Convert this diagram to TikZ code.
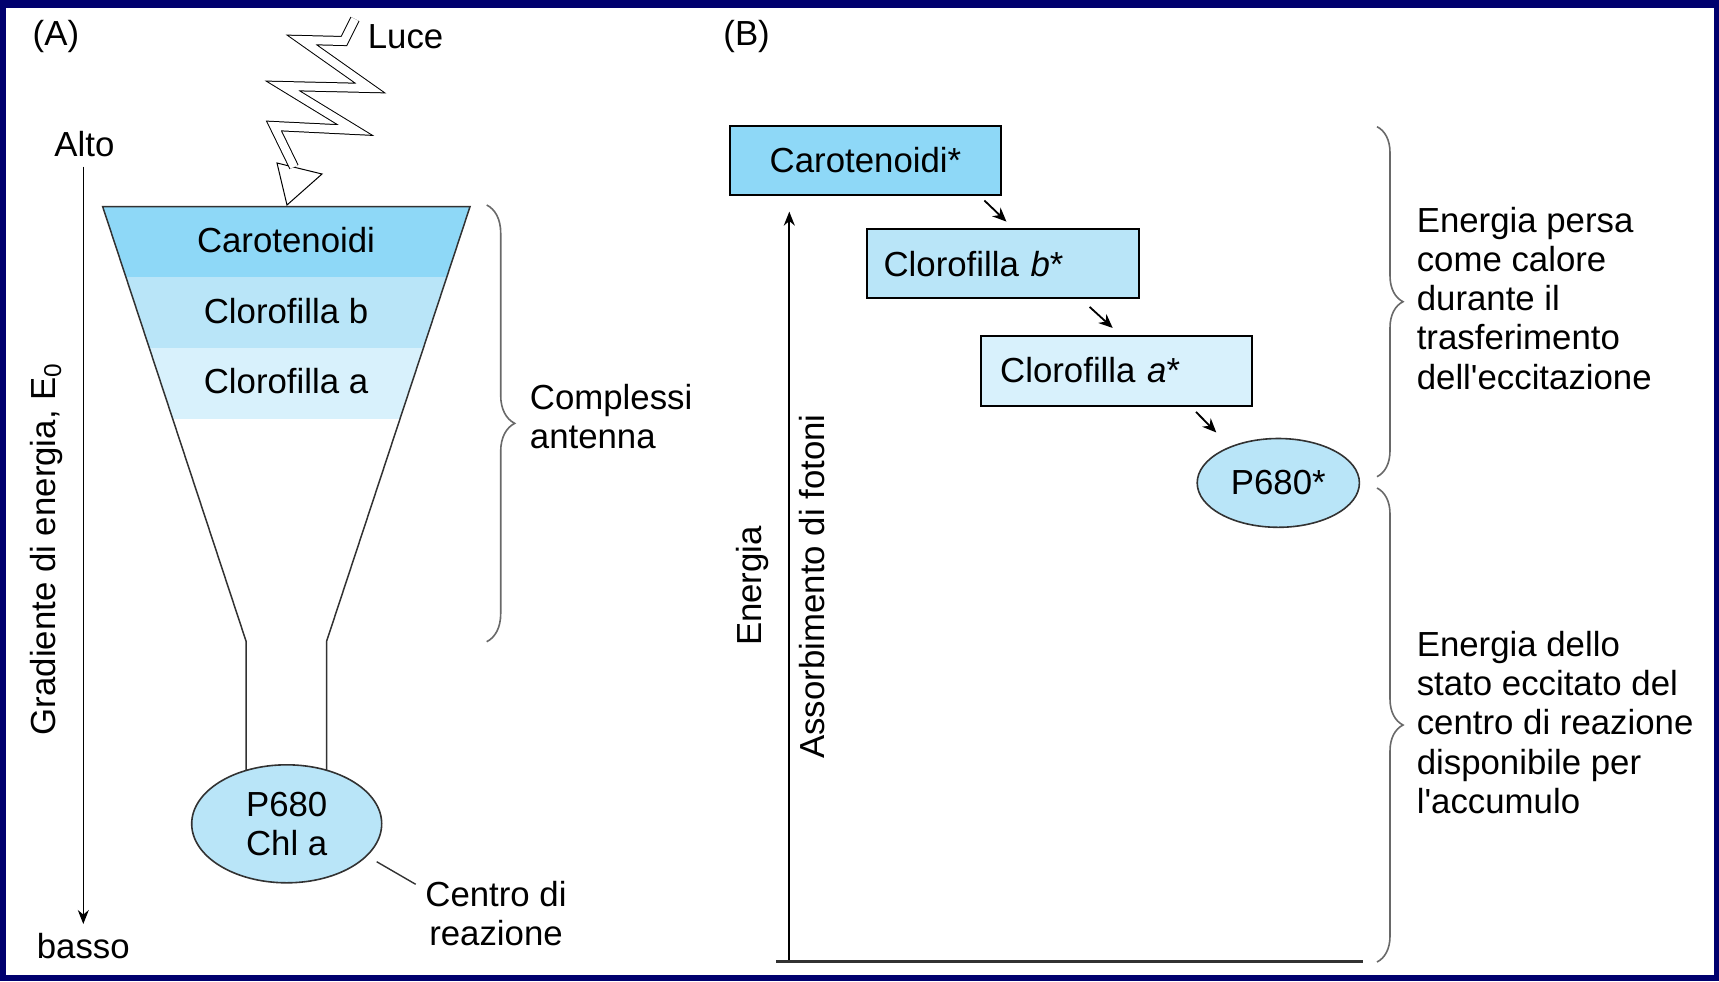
\documentclass[tikz,border=0pt]{standalone}
\usepackage{fontspec}
\setmainfont{Liberation Sans}
\usetikzlibrary{arrows.meta,decorations.pathreplacing,shapes.geometric,calc}
\definecolor{navy}{RGB}{0,0,110}
\definecolor{skyA}{RGB}{142,216,247}
\definecolor{skyB}{RGB}{185,229,248}
\definecolor{skyC}{RGB}{216,241,252}
\definecolor{lineg}{RGB}{50,50,50}
\definecolor{braceg}{RGB}{105,105,105}
\begin{document}
\begin{tikzpicture}[x=0.5pt,y=-0.5pt,
  every node/.style={font=\fontsize{17.4pt}{19.6pt}\selectfont, inner sep=0pt, text=black},
  funnel/.style={draw=lineg, line width=0.75pt, line join=miter},
  bracestyle/.style={draw=braceg, line width=0.8pt, decorate},
  axarrow/.style={line width=0.75pt, -{Stealth[length=7pt,width=5.5pt]}},
  steparrow/.style={line width=0.9pt, -{Stealth[length=7pt,width=6pt]}},
  statebox/.style={draw=black, line width=1pt, minimum height=34.55pt, align=left},
  bolt/.style={draw=black, line width=0.5pt, double=white, double distance=4pt, line join=miter},
]
\useasboundingbox (0,0) rectangle (1719,981);
\fill[navy] (0,0) rectangle (1719,981);
\fill[white] (6,8) rectangle (1714,975);

% ---------------- (A) ----------------
\node (labA) at (55.9,36.2) {(A)};
\node (luce) at (405.6,36.2) {Luce};

% funnel bands
\coordinate (ftl) at (102.7,206.7);
\coordinate (ftr) at (470,206.7);
\coordinate (fnl) at (246,641);
\coordinate (fnr) at (326.7,641);
\begin{scope}
  \clip (ftl) -- (ftr) -- (fnr) -- (fnl) -- cycle;
  \fill[skyA] (90,206.7) rectangle (480,277.4);
  \fill[skyB] (90,277.4) rectangle (480,347.5);
  \fill[skyC] (90,347.5) rectangle (480,418.8);
\end{scope}
\draw[funnel] (246,780) -- (fnl) -- (ftl) -- (ftr) -- (fnr) -- (326.7,780);

\node (car) at (286,240) {Carotenoidi};
\node (clb) at (286,311.4) {Clorofilla b};
\node (cla) at (286,381.5) {Clorofilla a};

\node[ellipse, draw=lineg, line width=0.8pt, fill=skyB, minimum width=95pt, minimum height=59pt, align=center]
  (rc) at (286.7,823.8) {P680\\Chl a};

% lightning bolt
\coordinate (b0) at (355,19);
\coordinate (b1) at (344,41);
\coordinate (b2) at (302,40);
\coordinate (b3) at (370,88);
\coordinate (b4) at (283,86);
\coordinate (b5) at (355,130);
\coordinate (b6) at (274,126);
\coordinate (b7) at (294,167);
\coordinate (hl) at (277,163);
\coordinate (ht) at (287,205);
\coordinate (hr) at (322,174);
\draw[line width=0.5pt, fill=white, line join=miter] (hl) -- (ht) -- (hr) -- cycle;
\draw[bolt] (b0) -- (b1) -- (b2) -- (b3) -- (b4) -- (b5) -- (b6) -- (b7);

% energy gradient axis
\node (alto) at (84.4,143.6) {Alto};
\node (basso) at (83.3,946.1) {basso};
\coordinate (gtop) at (83.3,166.6);
\coordinate (gbot) at (83.3,924);
\draw[axarrow] (gtop) -- (gbot);
\node[rotate=90] (grad) at (47,549) {Gradiente di energia, E\textsubscript{0}};

% antenna brace
\draw[bracestyle, decoration={brace, amplitude=14pt}] (486.7,205) -- (486.7,641.7);
\node[anchor=west, align=left] (compl) at (529.5,416.6) {Complessi\\antenna};

% reaction centre label
\coordinate (lead1) at (376.7,861.7);
\coordinate (lead2) at (415.7,884.3);
\draw[line width=0.7pt, lineg] (lead1) -- (lead2);
\node[align=center] (centro) at (496,913.2) {Centro di\\reazione};

% ---------------- (B) ----------------
\node (labB) at (746.6,36.2) {(B)};

\node[statebox, fill=skyA, minimum width=135.4pt, align=center] (carS) at (865.5,160.55) {Carotenoidi*};
\node[statebox, fill=skyB, text width=119.55pt, inner xsep=8.2pt] (clbS) at (1003.15,263.65) {Clorofilla \textit{b}*};
\node[statebox, fill=skyC, text width=116.4pt, inner xsep=9.5pt, minimum height=35pt] (claS) at (1116.6,370.55) {Clorofilla \textit{a}*};
\node[ellipse, draw=lineg, line width=0.8pt, fill=skyB, minimum width=81.1pt, minimum height=44.4pt] (pS) at (1278.3,482.9) {P680*};

\draw[steparrow] ([shift={(-17.5,4.4)}]carS.south east) -- ([shift={(3.3,-6.5)}]clbS.north);
\draw[steparrow] ([shift={(-50.5,7.7)}]clbS.south east) -- ([shift={(-3.9,-6.6)}]claS.north);
\draw[steparrow] ([shift={(-57,5.4)}]claS.south east) -- ([shift={(-4.1,-18.5)}]pS.north west);

% energy axis
\coordinate (ax0) at (789.3,961.5);
\coordinate (axtop) at (789.3,211.6);
\coordinate (bl) at (776.2,961.5);
\coordinate (br) at (1362.7,961.5);
\draw[axarrow, line width=0.9pt] (ax0) -- (axtop);
\draw[line width=1.3pt, lineg] (bl) -- (br);
\node[rotate=90] (energia) at (752,586) {Energia};
\node[rotate=90] (assorb) at (812.4,586.5) {Assorbimento di fotoni};

% right braces
\draw[bracestyle, decoration={brace, amplitude=13pt}] (1377,126.7) -- (1377,476.7);
\draw[bracestyle, decoration={brace, amplitude=13pt}] (1377,488) -- (1377,962);
\node[anchor=west, align=left] (lost) at (1416.4,298.2)
  {Energia persa\\come calore\\durante il\\trasferimento\\dell\textquotesingle eccitazione};
\node[anchor=west, align=left] (stored) at (1416.4,722.5)
  {Energia dello\\stato eccitato del\\centro di reazione\\disponibile per\\l\textquotesingle accumulo};
\end{tikzpicture}
\end{document}
